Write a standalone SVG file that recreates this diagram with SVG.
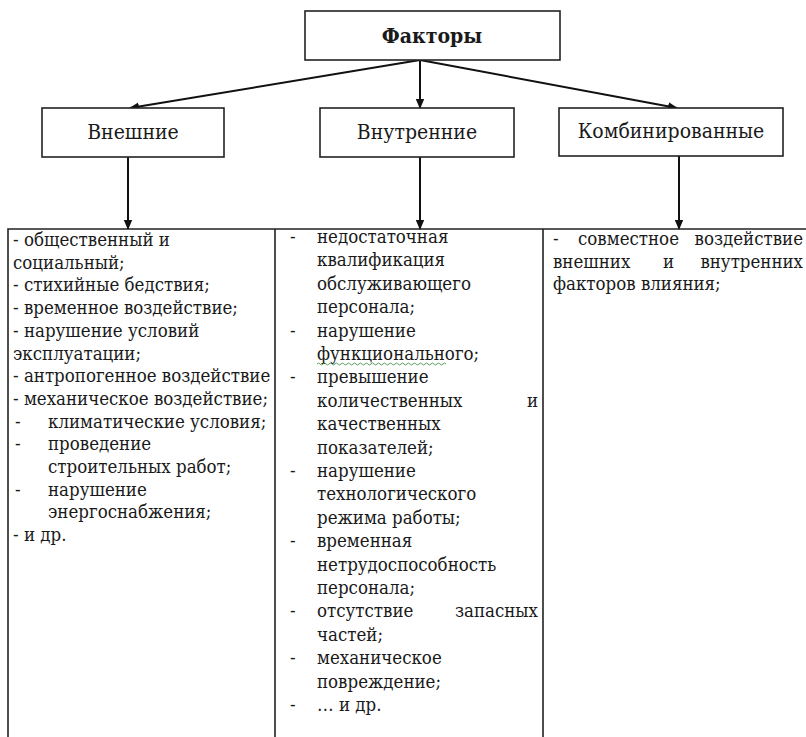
<svg xmlns="http://www.w3.org/2000/svg" width="806" height="737" viewBox="0 0 806 737">
<defs>
<marker id="ah" markerWidth="10" markerHeight="10" refX="9" refY="5" orient="auto" markerUnits="userSpaceOnUse">
<path d="M0,0.8 L10,5 L0,9.2 Z" fill="#111"/>
</marker>
<style>
.box{fill:#fff;stroke:#222;stroke-width:1.6}
.lbl{font-family:"DejaVu Serif Condensed","DejaVu Serif",serif;font-size:21px;fill:#1a1a1a;text-anchor:middle}
.t{font-family:"DejaVu Serif Condensed","DejaVu Serif",serif;font-size:18.5px;fill:#1a1a1a}
.e{text-anchor:end}
.ln{stroke:#111;stroke-width:2;fill:none}
.grid{stroke:#222;stroke-width:1.6;fill:none}
</style>
</defs>
<rect width="806" height="737" fill="#fff"/>

<g id="connectors">
<line class="ln" x1="420" y1="60" x2="130" y2="108" marker-end="url(#ah)"/>
<line class="ln" x1="420" y1="60" x2="420" y2="108" marker-end="url(#ah)"/>
<line class="ln" x1="420" y1="60" x2="677" y2="108" marker-end="url(#ah)"/>
<line class="ln" x1="128" y1="157" x2="128" y2="229" marker-end="url(#ah)"/>
<line class="ln" x1="420" y1="157" x2="420" y2="229" marker-end="url(#ah)"/>
<line class="ln" x1="679" y1="156" x2="679" y2="229" marker-end="url(#ah)"/>
</g>

<g id="factors">
<rect class="box" x="305" y="11" width="255" height="49"/>
<text class="lbl" x="432" y="43" font-weight="bold">Факторы</text>
</g>
<g id="external">
<rect class="box" x="42" y="108" width="182" height="49"/>
<text class="lbl" x="133" y="139">Внешние</text>
</g>
<g id="internal">
<rect class="box" x="320" y="108" width="194" height="49"/>
<text class="lbl" x="417" y="139">Внутренние</text>
</g>
<g id="combined">
<rect class="box" x="559" y="108" width="224" height="48"/>
<text class="lbl" x="671" y="138">Комбинированные</text>
</g>

<g id="table">
<path class="grid" d="M8,740 V229 H810 M275,229 V740 M543,229 V740"/>
</g>

<g id="col-external">
<text class="t" x="13" y="246">- общественный и</text>
<text class="t" x="13" y="268.7">социальный;</text>
<text class="t" x="13" y="291.4">- стихийные бедствия;</text>
<text class="t" x="13" y="314.1">- временное воздействие;</text>
<text class="t" x="13" y="336.8">- нарушение условий</text>
<text class="t" x="13" y="359.5">эксплуатации;</text>
<text class="t" x="13" y="382.2">- антропогенное воздействие</text>
<text class="t" x="13" y="404.9">- механическое воздействие;</text>
<text class="t" x="15" y="427.6">-</text><text class="t" x="48" y="427.6">климатические условия;</text>
<text class="t" x="15" y="450.3">-</text><text class="t" x="48" y="450.3">проведение</text>
<text class="t" x="48" y="473">строительных работ;</text>
<text class="t" x="15" y="495.7">-</text><text class="t" x="48" y="495.7">нарушение</text>
<text class="t" x="48" y="518.4">энергоснабжения;</text>
<text class="t" x="13" y="541.1">- и др.</text>
</g>

<g id="col-internal">
<text class="t" x="290" y="243">-</text><text class="t" x="317" y="243">недостаточная</text>
<text class="t" x="317" y="266.4">квалификация</text>
<text class="t" x="317" y="289.8">обслуживающего</text>
<text class="t" x="317" y="313.2">персонала;</text>
<text class="t" x="290" y="336.6">-</text><text class="t" x="317" y="336.6">нарушение</text>
<text class="t" x="317" y="360">функционального;</text>
<path d="M317,364 q1.5,-2 3,0 t3,0 t3,0 t3,0 t3,0 t3,0 t3,0 t3,0 t3,0 t3,0 t3,0 t3,0 t3,0 t3,0 t3,0 t3,0 t3,0 t3,0 t3,0 t3,0 t3,0 t3,0 t3,0 t3,0 t3,0 t3,0 t3,0 t3,0 t3,0 t3,0 t3,0 t3,0 t3,0 t3,0 t3,0 t3,0 t3,0 t3,0 t3,0 t3,0 t3,0 t3,0 t3,0" fill="none" stroke="#5aa05a" stroke-width="1"/>
<text class="t" x="290" y="383.4">-</text><text class="t" x="317" y="383.4">превышение</text>
<text class="t" x="317" y="406.8">количественных</text><text class="t e" x="538" y="406.8">и</text>
<text class="t" x="317" y="430.2">качественных</text>
<text class="t" x="317" y="453.6">показателей;</text>
<text class="t" x="290" y="477">-</text><text class="t" x="317" y="477">нарушение</text>
<text class="t" x="317" y="500.4">технологического</text>
<text class="t" x="317" y="523.8">режима работы;</text>
<text class="t" x="290" y="547.2">-</text><text class="t" x="317" y="547.2">временная</text>
<text class="t" x="317" y="570.6">нетрудоспособность</text>
<text class="t" x="317" y="594">персонала;</text>
<text class="t" x="290" y="617.4">-</text><text class="t" x="317" y="617.4">отсутствие</text><text class="t e" x="538" y="617.4">запасных</text>
<text class="t" x="317" y="640.8">частей;</text>
<text class="t" x="290" y="664.2">-</text><text class="t" x="317" y="664.2">механическое</text>
<text class="t" x="317" y="687.6">повреждение;</text>
<text class="t" x="290" y="711">-</text><text class="t" x="317" y="711">… и др.</text>
</g>

<g id="col-combined">
<text class="t" x="553" y="245">-</text><text class="t" x="578" y="245">совместное</text><text class="t e" x="803" y="245">воздействие</text>
<text class="t" x="553" y="267.5">внешних</text><text class="t" x="663" y="267.5">и</text><text class="t e" x="803" y="267.5">внутренних</text>
<text class="t" x="553" y="290">факторов влияния;</text>
</g>
</svg>
